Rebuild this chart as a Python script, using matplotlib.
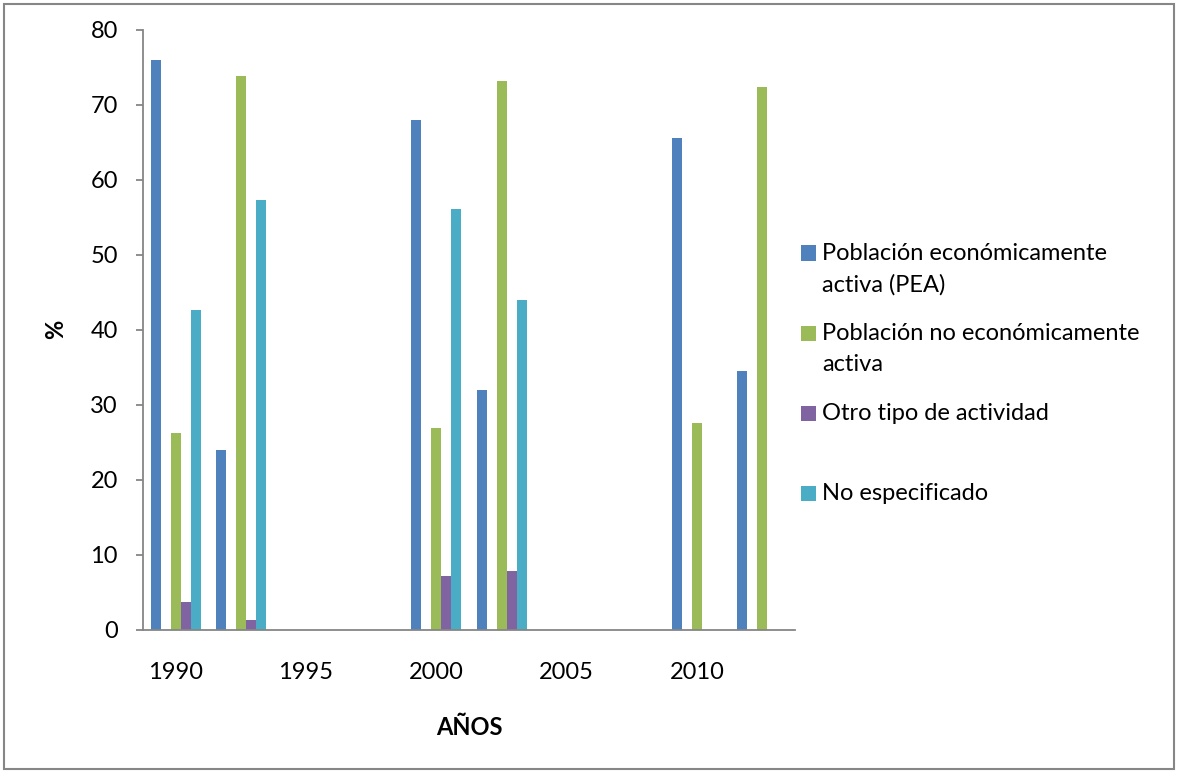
import numpy as np
import matplotlib.pyplot as plt
from matplotlib.patches import Rectangle

plt.rcParams['font.family'] = ['Lato', 'DejaVu Sans']

# Categorías del eje X (sólo se rotula una de cada dos)
etiquetas_x = ['1990', '', '1995', '', '2000', '', '2005', '', '2010', '']

pea = [76.0, 24.0, None, None, 68.0, 32.0, None, None, 65.5, 34.5]
no_pea = [26.2, 73.8, None, None, 26.9, 73.1, None, None, 27.6, 72.4]
otro = [3.7, 1.3, None, None, 7.2, 7.9, None, None, None, None]
no_esp = [42.6, 57.3, None, None, 56.1, 44.0, None, None, None, None]
vacia = [None] * 10  # serie sin datos que ocupa un hueco en cada grupo

series = [
    ('Población económicamente\nactiva (PEA)', pea, '#4F81BD'),
    ('', vacia, 'none'),
    ('Población no económicamente\nactiva', no_pea, '#9BBB59'),
    ('Otro tipo de actividad', otro, '#8064A2'),
    ('No especificado', no_esp, '#4BACC6'),
]

fs = 17

fig = plt.figure(figsize=(11.78, 7.73), dpi=100)
ax = fig.add_axes([143 / 1178, 143 / 773, 652 / 1178, 600.5 / 773])

n = len(series)
ancho = 1 / (n + 1.5)
x = np.arange(len(etiquetas_x))
for k, (nombre, valores, color) in enumerate(series):
    xs = [xi + (k - (n - 1) / 2) * ancho for xi, v in zip(x, valores) if v is not None]
    hs = [v for v in valores if v is not None]
    if hs:
        ax.bar(xs, hs, width=ancho, color=color, edgecolor='none')

ax.set_xlim(-0.5, len(etiquetas_x) - 0.5)
ax.set_ylim(0, 80)
ax.set_yticks(np.arange(0, 81, 10))
ax.set_xticks(x)
ax.set_xticklabels(etiquetas_x)

gris = '#868686'
for lado in ['top', 'right']:
    ax.spines[lado].set_visible(False)
for lado in ['left', 'bottom']:
    ax.spines[lado].set_color(gris)
    ax.spines[lado].set_linewidth(1.3)
ax.tick_params(axis='y', length=5, width=1.3, color=gris, pad=13, labelsize=fs)
ax.tick_params(axis='x', length=0, pad=23, labelsize=fs)

ax.set_ylabel('%', fontsize=fs, fontweight='bold', labelpad=17)
ax.set_xlabel('AÑOS', fontsize=fs, fontweight='bold', labelpad=24)

# Leyenda a la derecha con entradas de igual altura
y0 = 253
for i, (nombre, valores, color) in enumerate([s for s in series if s[0]]):
    yc = y0 + i * 80
    fig.patches.append(Rectangle((801 / 1178, 1 - (yc + 7.5) / 773), 15 / 1178, 15 / 773,
                                 transform=fig.transFigure, facecolor=color,
                                 edgecolor='none'))
    fig.text(822 / 1178, 1 - (yc - 10) / 773, nombre, fontsize=fs, va='top', ha='left',
             linespacing=1.6)

# Marco del gráfico
fig.patches.append(Rectangle((4 / 1178, 4 / 773), 1170 / 1178, 765 / 773,
                             transform=fig.transFigure, facecolor='none',
                             edgecolor=gris, linewidth=1.5))

fig.savefig('out.png', dpi=100)
